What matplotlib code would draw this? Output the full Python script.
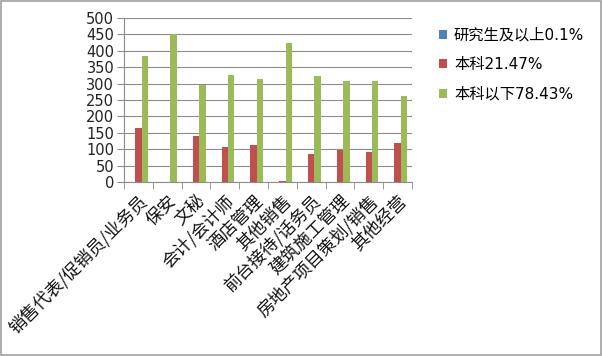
import matplotlib
matplotlib.use("Agg")
import matplotlib.pyplot as plt
from matplotlib.patches import Rectangle
import numpy as np

plt.rcParams['font.family'] = ['DejaVu Sans', 'Noto Sans CJK SC']

categories = ["销售代表/促销员/业务员", "保安", "文秘", "会计/会计师", "酒店管理",
              "其他销售", "前台接待/话务员", "建筑施工管理", "房地产项目策划/销售", "其他经营"]
series_names = ["研究生及以上0.1%", "本科21.47%", "本科以下78.43%"]
grad = [0, 0, 0, 0, 0, 0, 0, 0, 0, 0]
bachelor = [164, 0, 139, 107, 114, 3, 85, 98, 91, 118]
below = [384, 451, 296, 325, 313, 425, 324, 308, 308, 261]
colors = ["#4F81BD", "#C0504D", "#9BBB59"]
yticks = [0, 50, 100, 150, 200, 250, 300, 350, 400, 450, 500]

fig = plt.figure(figsize=(6.02, 3.56), dpi=100)
fig.patches.append(Rectangle((0.002, 0.003), 0.996, 0.994, transform=fig.transFigure,
                             fill=False, edgecolor="#A0A0A0", linewidth=1.2))
ax = fig.add_axes([124/602, 1-182/356, (412-124)/602, (182-18)/356])

x = np.arange(len(categories))
w = 1/4.5
for i, (vals, c, name) in enumerate(zip([grad, bachelor, below], colors, series_names)):
    ax.bar(x + (i-1)*w, vals, width=w, color=c, label=name, zorder=3)

ax.set_xlim(-0.5, len(categories)-0.5)
ax.set_ylim(0, 500)
ax.set_yticks(yticks)
ax.set_yticklabels([str(v) for v in yticks], fontsize=10.5, color="#222222")
ax.yaxis.grid(True, color="#8C8C8C", linewidth=0.8, zorder=0)
ax.set_xticks(x)
ax.set_xticklabels(categories, rotation=45, ha="right", rotation_mode="anchor",
                   fontsize=12.5, color="#111111",
                   fontfamily=['Noto Sans CJK SC', 'DejaVu Sans'])
ax.tick_params(axis="x", which="major", length=0, pad=7)
ax.set_xticks(np.arange(-0.5, len(categories)), minor=True)
ax.tick_params(axis="x", which="minor", length=5, color="#8C8C8C", direction="out")
ax.tick_params(axis="y", length=5, color="#8C8C8C", pad=2)
for s in ["top", "right"]:
    ax.spines[s].set_visible(False)
for s in ["left", "bottom"]:
    ax.spines[s].set_color("#8C8C8C")

leg = fig.legend(loc="upper left", bbox_to_anchor=(425/602, 1-14/356), frameon=False,
                 fontsize=11, handlelength=0.55, handleheight=0.55, handletextpad=0.45,
                 labelspacing=0.95)

fig.savefig("out.png", dpi=100)
